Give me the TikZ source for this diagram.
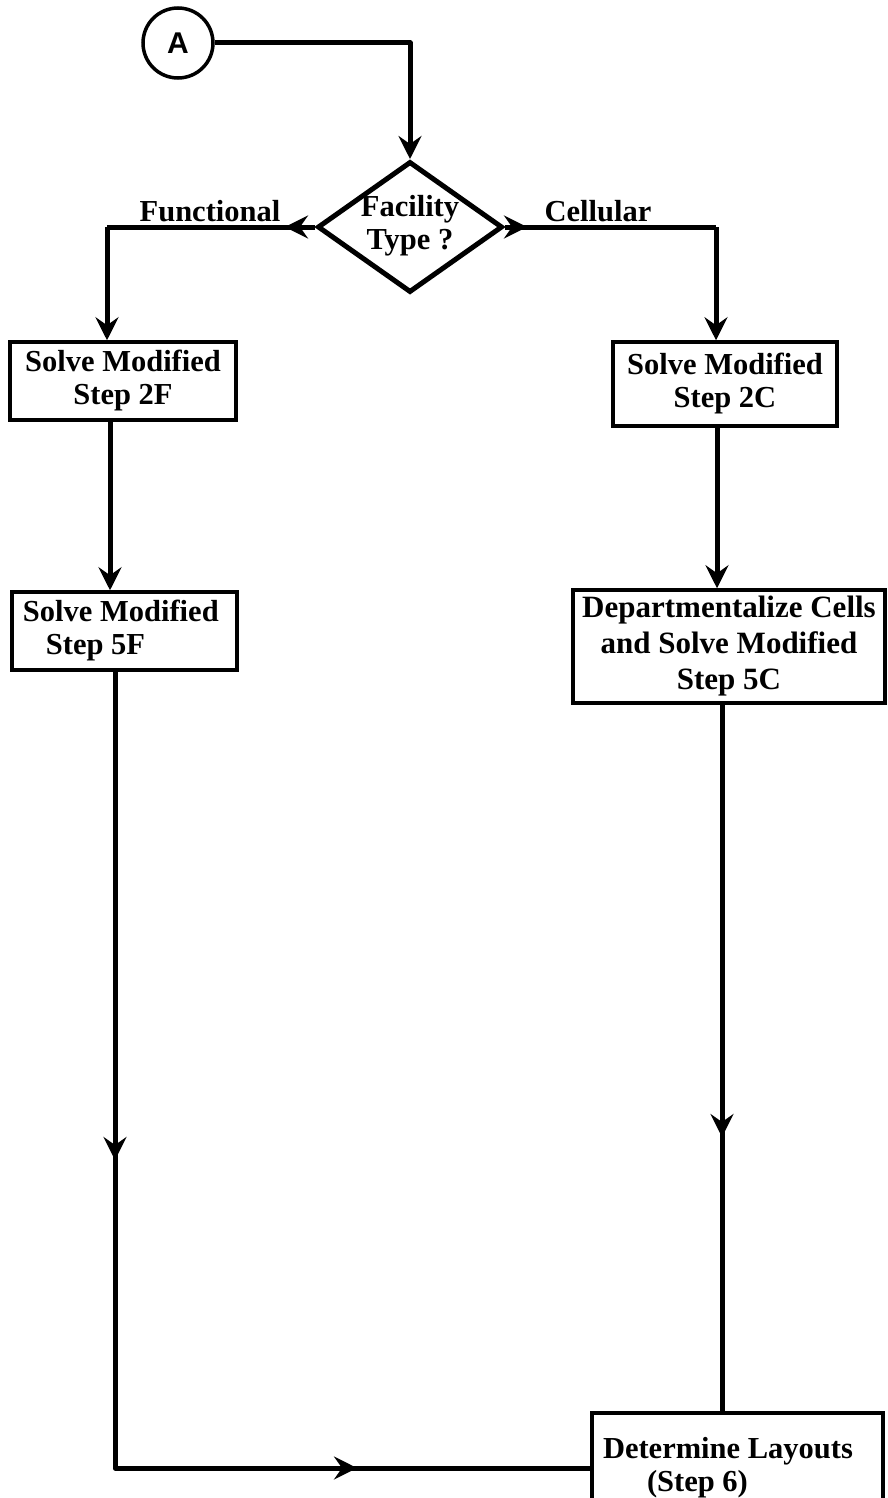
\documentclass[tikz,border=0pt]{standalone}
\usepackage{fontspec}
\setmainfont{Liberation Serif}
\newfontfamily\connfont{Liberation Sans}
\usetikzlibrary{shapes.geometric,arrows.meta}

\begin{document}
\begin{tikzpicture}[x=1pt,y=-1pt,
  >={Stealth[length=23pt,width=23pt,inset=8pt]},
  txt/.style={font=\bfseries\fontsize{30.5}{33}\selectfont},
  stepbox/.style={draw,line width=3.5pt,rectangle,inner sep=0pt,txt,align=center},
  conn/.style={line width=5pt,line join=round},
  flow/.style={conn,->}]
  \clip (0,0) rectangle (887,1498);

  % connector, decision and process nodes
  \node[draw,circle,line width=3.5pt,minimum size=70pt,inner sep=0pt,
        font=\connfont\bfseries\fontsize{30}{32}\selectfont] (A) at (178,43) {A};
  \node[draw,diamond,line width=5pt,minimum width=185pt,minimum height=131pt,
        inner sep=0pt] (ft) at (410,227) {};
  \node[txt,align=center] (ftl) at (410,226) {Facility\\Type ?};

  \node[stepbox,minimum width=226pt,minimum height=78pt] (b2F) at (123,381)
    {Solve Modified\\Step 2F};
  \node[stepbox,minimum width=224pt,minimum height=84pt] (b2C) at (725,384)
    {Solve Modified\\Step 2C};
  \node[stepbox,minimum width=225pt,minimum height=78pt,text width=203pt,align=flush left]
    (b5F) at (124.5,631) {Solve Modified\\\hspace*{23pt}Step 5F};
  \node[stepbox,minimum width=312pt,minimum height=113pt,
        font=\bfseries\fontsize{31}{36}\selectfont] (b5C) at (729,646.5)
    {Departmentalize Cells\\and Solve Modified\\Step 5C};
  \node[stepbox,minimum width=291pt,minimum height=110pt,text width=269pt,align=flush left]
    (b6) at (737.5,1468) {Determine Layouts\\\hspace*{44pt}(Step 6)};

  % branch labels
  \node[txt,anchor=base] (lf) at (210,221) {Functional};
  \node[txt,anchor=base] (lc) at (598,221) {Cellular};

  % routing points
  \coordinate (c1) at (410,43);
  \coordinate (lm) at (285,227);
  \coordinate (lk) at (107,227);
  \coordinate (rm) at (527,227);
  \coordinate (rk) at (716,227);
  \coordinate (xl) at (110,0);
  \coordinate (xr) at (717,0);
  \coordinate (dl) at (115,1160);
  \coordinate (bl) at (115,1468);
  \coordinate (bm) at (357,1468);
  \coordinate (dr) at (722,1137);

  % connectors
  \draw[flow] (A.east) -- (c1) -- (ft.north);
  \draw[conn] (ft.west) -- (lk);
  \draw[flow] (ft.west) -- (lm);
  \draw[flow] (lk) -- (lk |- b2F.north);
  \draw[conn] (ft.east) -- (rk);
  \draw[flow] (ft.east) -- (rm);
  \draw[flow] (rk) -- (rk |- b2C.north);
  \draw[flow] (b2F.south -| xl) -- (b5F.north -| xl);
  \draw[flow] (b2C.south -| xr) -- (b5C.north -| xr);
  \draw[conn] (b5F.south -| dl) -- (bl) -- (b6.west);
  \draw[flow] (b5F.south -| dl) -- (dl);
  \draw[flow] (bl) -- (bm);
  \draw[conn] (b5C.south -| dr) -- (b6.north -| dr);
  \draw[flow] (b5C.south -| dr) -- (dr);
\end{tikzpicture}
\end{document}
